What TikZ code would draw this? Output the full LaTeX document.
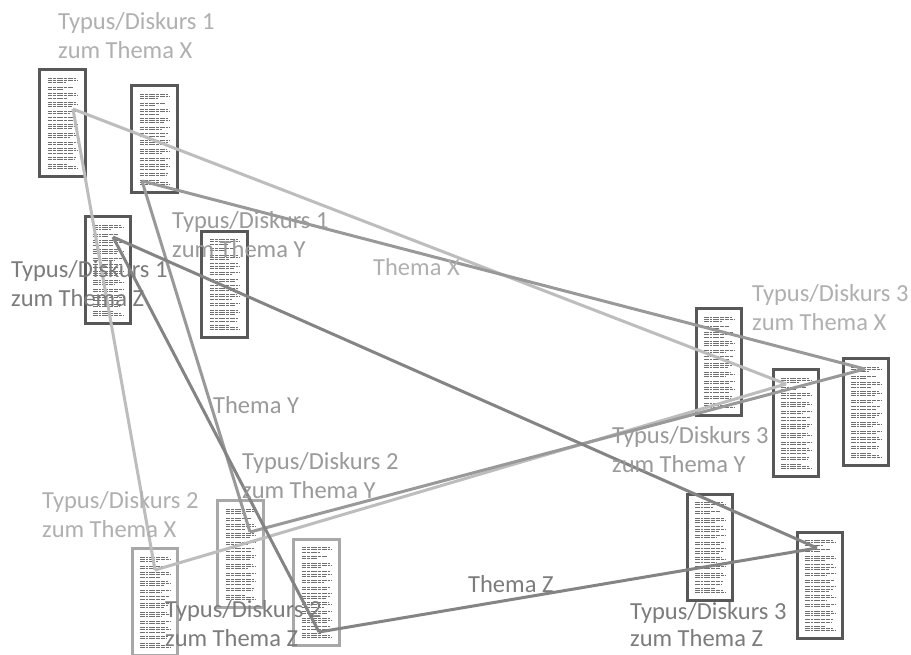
\documentclass[tikz,border=0pt]{standalone}
\usepackage{fontspec}
\setmainfont{Carlito}
\usetikzlibrary{calc}
\definecolor{txX}{HTML}{B0B0B0}
\definecolor{txY}{HTML}{9A9A9A}
\definecolor{txZ}{HTML}{7C7C7C}
\definecolor{lnX}{HTML}{BDBDBD}
\definecolor{lnY}{HTML}{999999}
\definecolor{lnZ}{HTML}{848484}
\definecolor{bdDark}{HTML}{585858}
\definecolor{bdLight}{HTML}{A8A8A8}
\definecolor{docText}{HTML}{707070}
\tikzset{
  doctext/.style={path picture={
    \foreach \yy/\ll in {-45/28,-42.8/30,-40.6/18,
                         -36.2/26,-34/16,
                         -29.6/29,-27.4/30,-25.2/20,
                         -20.8/28,-18.6/30,-16.4/24,
                         -12/30,-9.8/22,
                         -5.4/29,-3.2/26,
                         1.2/30,3.4/28,5.6/24,
                         10/27,12.2/30,14.4/22,
                         18.8/30,21/26,
                         25.4/28,27.6/30,29.8/25,
                         34.2/28,36.4/27,
                         40.8/20,43/28,45.2/30}
      \draw[docText, line width=0.6,
            dash pattern=on 4.5 off 1 on 2.5 off 1 on 6 off 1 on 3.5 off 1]
        ($(path picture bounding box.center)+(-15,\yy)$) -- ++(\ll,0);
  }},
  docbox/.style={draw=bdDark, fill=white, line width=3.2, minimum width=45.5,
    minimum height=106.5, inner sep=0, doctext},
  docboxlight/.style={docbox, draw=bdLight},
  lbl/.style={inner sep=0, anchor=base west, font=\fontsize{24.5}{29}\selectfont},
  lnx/.style={draw=lnX, line width=3},
  lny/.style={draw=lnY, line width=3},
  lnz/.style={draw=lnZ, line width=3},
}
\begin{document}
\begin{tikzpicture}[x=1pt, y=-1pt]
\useasboundingbox (0,0) rectangle (911,654);
\fill[white] (0,0) rectangle (911,654);

% documents
\node[docbox] (d1) at (62.5,123) {};
\node[docbox] (d2) at (154.5,139) {};
\node[docbox] (d3) at (108,270) {};
\node[docbox] (d4) at (224.5,284.5) {};
\node[docbox] (d5) at (719,362) {};
\node[docbox] (d6) at (796,423) {};
\node[docbox] (d7) at (866,412) {};
\node[docboxlight] (d8) at (155,602) {};
\node[docboxlight] (d9) at (240.5,554) {};
\node[docboxlight] (d10) at (316.5,592.5) {};
\node[docbox] (d11) at (710,547.5) {};
\node[docbox] (d12) at (820,585.5) {};

% connection points inside documents
\coordinate (d1p) at (73,109);
\coordinate (d2p) at (142,181);
\coordinate (d3p) at (113,237);
\coordinate (d6p) at (786,384);
\coordinate (d7p) at (865,369);
\coordinate (d8p) at (155,570);
\coordinate (d9p) at (250,532);
\coordinate (d10p) at (319,632);
\coordinate (d12p) at (817,548);

% connectors
\draw[lnx] (d1p) -- (d6p);
\draw[lnx] (d1p) -- (d8p);
\draw[lnx] (d8p) -- (d6p);
\draw[lny] (d2p) -- (d7p);
\draw[lny] (d2p) -- (d9p);
\draw[lny] (d9p) -- (d7p);
\draw[lnz] (d3p) -- (d12p);
\draw[lnz] (d3p) -- (d10p);
\draw[lnz] (d10p) -- (d12p);

% labels
\node[lbl, text=txX] (l1xa) at (58,29) {Typus/Diskurs 1};
\node[lbl, text=txX] (l1xb) at (58,58) {zum Thema X};
\node[lbl, text=txY] (l1ya) at (172,228) {Typus/Diskurs 1};
\node[lbl, text=txY] (l1yb) at (172,257) {zum Thema Y};
\node[lbl, text=txZ] (l1za) at (11,277) {Typus/Diskurs 1};
\node[lbl, text=txZ] (l1zb) at (11,306) {zum Thema Z};

\node[lbl, text=txX] (l2xa) at (42,508) {Typus/Diskurs 2};
\node[lbl, text=txX] (l2xb) at (42,537) {zum Thema X};
\node[lbl, text=txY] (l2ya) at (242,469) {Typus/Diskurs 2};
\node[lbl, text=txY] (l2yb) at (242,498) {zum Thema Y};
\node[lbl, text=txZ] (l2za) at (165,617) {Typus/Diskurs 2};
\node[lbl, text=txZ] (l2zb) at (165,646) {zum Thema Z};

\node[lbl, text=txX] (l3xa) at (752,301) {Typus/Diskurs 3};
\node[lbl, text=txX] (l3xb) at (752,330) {zum Thema X};
\node[lbl, text=txY] (l3ya) at (612,443) {Typus/Diskurs 3};
\node[lbl, text=txY] (l3yb) at (612,472) {zum Thema Y};
\node[lbl, text=txZ] (l3za) at (630,619) {Typus/Diskurs 3};
\node[lbl, text=txZ] (l3zb) at (630,646) {zum Thema Z};

\node[lbl, text=txX] (thx) at (373,275) {Thema X};
\node[lbl, text=txY] (thy) at (213,413) {Thema Y};
\node[lbl, text=txZ] (thz) at (468,592) {Thema Z};
\end{tikzpicture}
\end{document}
